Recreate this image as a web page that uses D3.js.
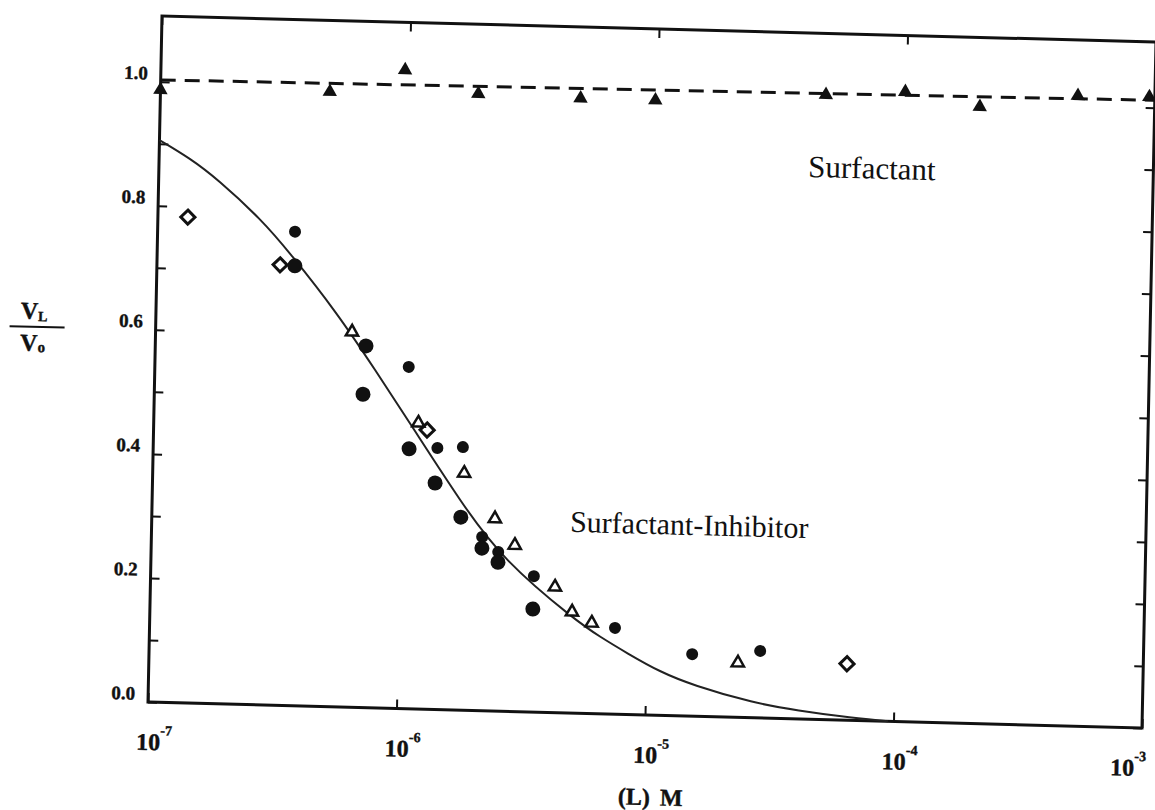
<!DOCTYPE html>
<html lang="en">
<head>
<meta charset="utf-8">
<script src="https://cdn.jsdelivr.net/npm/d3@7"></script>
<style>
body { margin: 0; background: #fff; }
svg { font-family: "Liberation Serif", "DejaVu Serif", serif; }
</style>
</head>
<body>
<script>
// values
var xDecades = [1e-7, 1e-6, 1e-5, 1e-4, 1e-3];
var xDecadeExp = ["-7", "-6", "-5", "-4", "-3"];
var yMajor = [0, 0.2, 0.4, 0.6, 0.8, 1.0];
var yMajorLabels = ["0.0", "0.2", "0.4", "0.6", "0.8", "1.0"];
var yMinor = [0, 0.1, 0.2, 0.3, 0.4, 0.5, 0.6, 0.7, 0.8, 0.9, 1.0];

// surfactant alone: filled triangles + dashed line
var surfX = [1.0e-7, 4.8e-7, 9.6e-7, 1.9e-6, 4.9e-6, 9.8e-6, 4.75e-5, 9.9e-5, 1.98e-4, 4.9e-4, 9.5e-4];
var surfY = [0.987, 0.991, 1.029, 0.994, 0.991, 0.991, 1.007, 1.015, 0.994, 1.016, 1.017];
var dashX = [1e-7, 1e-3];
var dashY = [1.003, 1.012];

// surfactant + inhibitor
var diamondX = [1.32e-7, 3.13e-7, 1.26e-6, 6.43e-5];
var diamondY = [0.783, 0.710, 0.450, 0.091];
var openTriX = [6.17e-7, 1.16e-6, 1.79e-6, 2.40e-6, 2.90e-6, 4.24e-6, 4.99e-6, 6.0e-6, 2.34e-5];
var openTriY = [0.605, 0.461, 0.382, 0.310, 0.268, 0.2025, 0.163, 0.146, 0.088];
var smallDotX = [3.57e-7, 1.05e-6, 1.39e-6, 1.76e-6, 2.14e-6, 2.49e-6, 3.48e-6, 7.45e-6, 1.53e-5, 2.87e-5];
var smallDotY = [0.764, 0.551, 0.4215, 0.424, 0.280, 0.2565, 0.219, 0.139, 0.100, 0.108];
var largeDotX = [3.59e-7, 7.04e-7, 6.91e-7, 1.07e-6, 1.37e-6, 1.75e-6, 2.14e-6, 2.49e-6, 3.47e-6];
var largeDotY = [0.709, 0.583, 0.505, 0.419, 0.365, 0.311, 0.262, 0.240, 0.166];

// fitted curve, points
var curveX = [1e-7, 1.33e-7, 1.72e-7, 2.62e-7, 3.42e-7, 5.35e-7, 7.69e-7, 1.10e-6, 1.76e-6, 2.61e-6,
              5.14e-6, 6.5e-6, 8.36e-6, 1.14e-5, 1.55e-5, 2.71e-5, 4.2e-5, 6.09e-5, 9.5e-5];
var curveY = [0.906, 0.878, 0.846, 0.7815, 0.7295, 0.635, 0.545, 0.454, 0.333, 0.2438,
              0.150, 0.124, 0.099, 0.070, 0.050, 0.024, 0.013, 0.006, 0.0];

var W = 994, H = 686;
var ink = "#111";

var svg = d3.select("body").append("svg")
    .attr("width", 1155)
    .attr("height", 810);

// the scan is slightly tilted, so the whole plot sits in a skewed group
var g = svg.append("g")
    .attr("transform", "matrix(1,0.02616,-0.02041,1,162,16)");

var x = d3.scaleLog().domain([1e-7, 1e-3]).range([0, W]);
var y = d3.scaleLinear().domain([0, 1.106]).range([H, 0]);

function zip(a, b) { return a.map(function(v, i) { return [v, b[i]]; }); }

// ticks (inward on all four sides)
var axes = [
  { ax: d3.axisBottom(x).tickValues(xDecades), t: "translate(0," + H + ")" },
  { ax: d3.axisTop(x).tickValues(xDecades), t: "translate(0,0)" },
  { ax: d3.axisLeft(y).tickValues(yMinor), t: "translate(0,0)" },
  { ax: d3.axisRight(y).tickValues(yMinor), t: "translate(" + W + ",0)" }
];
axes.forEach(function(a) {
  var ag = g.append("g").attr("transform", a.t)
      .call(a.ax.tickSize(-9).tickFormat(""));
  ag.select(".domain").remove();
  ag.selectAll("line").attr("stroke", ink).attr("stroke-width", 2);
});

// frame
g.append("rect")
    .attr("width", W).attr("height", H)
    .attr("fill", "none")
    .attr("stroke", ink)
    .attr("stroke-width", 3);

// y tick labels
g.selectAll(".ylab").data(yMajor).enter().append("text")
    .attr("class", "ylab")
    .attr("x", -13)
    .attr("y", function(d) { return y(d) - 2; })
    .attr("text-anchor", "end")
    .attr("font-size", 19)
    .attr("font-weight", "bold")
    .attr("fill", ink)
    .attr("stroke", ink)
    .attr("stroke-width", 0.4)
    .text(function(d, i) { return yMajorLabels[i]; });

// x tick labels 10^n
var xl = g.selectAll(".xlab").data(xDecades).enter().append("text")
    .attr("class", "xlab")
    .attr("x", function(d, i) { return x(d) - (i === xDecades.length - 1 ? 31 : 11); })
    .attr("y", H + 48)
    .attr("font-weight", "bold")
    .attr("fill", ink)
    .attr("stroke", ink)
    .attr("stroke-width", 0.4);
xl.append("tspan").attr("font-size", 24).text("10");
xl.append("tspan").attr("font-size", 14).attr("dy", -15)
    .text(function(d, i) { return xDecadeExp[i]; });

// axis titles
g.append("text")
    .attr("x", 504).attr("y", 776)
    .attr("text-anchor", "middle")
    .attr("font-size", 24)
    .attr("font-weight", "bold")
    .attr("fill", ink)
    .attr("stroke", ink)
    .attr("stroke-width", 0.4)
    .attr("word-spacing", 4)
    .text("(L) M");

var yt = g.append("g").attr("transform", "translate(-118,314)");
yt.append("line").attr("x1", -28).attr("x2", 27)
    .attr("stroke", ink).attr("stroke-width", 2);
var vl = yt.append("text").attr("x", -17).attr("y", -8)
    .attr("font-weight", "bold").attr("fill", ink)
    .attr("stroke", ink).attr("stroke-width", 0.4);
vl.append("tspan").attr("font-size", 24).text("V");
vl.append("tspan").attr("font-size", 14).attr("dy", 2).text("L");
var vo = yt.append("text").attr("x", -17).attr("y", 24)
    .attr("font-weight", "bold").attr("fill", ink)
    .attr("stroke", ink).attr("stroke-width", 0.4);
vo.append("tspan").attr("font-size", 24).text("V");
vo.append("tspan").attr("font-size", 15).attr("dy", 1).text("o");

// fitted curve
g.append("path")
    .datum(zip(curveX, curveY))
    .attr("fill", "none")
    .attr("stroke", "#222")
    .attr("stroke-width", 2)
    .attr("d", d3.line()
        .x(function(d) { return x(d[0]); })
        .y(function(d) { return y(d[1]); })
        .curve(d3.curveBasis));

// dashed surfactant line
g.append("path")
    .datum(zip(dashX, dashY))
    .attr("fill", "none")
    .attr("stroke", ink)
    .attr("stroke-width", 3)
    .attr("stroke-dasharray", "15,9")
    .attr("d", d3.line()
        .x(function(d) { return x(d[0]); })
        .y(function(d) { return y(d[1]); }));

function tr(d) { return "translate(" + x(d[0]) + "," + y(d[1]) + ")"; }

g.selectAll(".surf").data(zip(surfX, surfY)).enter().append("path")
    .attr("class", "surf")
    .attr("transform", tr)
    .attr("d", d3.symbol().type(d3.symbolTriangle).size(90))
    .attr("fill", ink);

g.selectAll(".dia").data(zip(diamondX, diamondY)).enter().append("path")
    .attr("class", "dia")
    .attr("transform", function(d) { return tr(d) + " rotate(45)"; })
    .attr("d", d3.symbol().type(d3.symbolSquare).size(100))
    .attr("fill", "#fff")
    .attr("stroke", ink)
    .attr("stroke-width", 3);

g.selectAll(".otri").data(zip(openTriX, openTriY)).enter().append("path")
    .attr("class", "otri")
    .attr("transform", tr)
    .attr("d", d3.symbol().type(d3.symbolTriangle).size(65))
    .attr("fill", "#fff")
    .attr("stroke", ink)
    .attr("stroke-width", 2.5);

g.selectAll(".sdot").data(zip(smallDotX, smallDotY)).enter().append("circle")
    .attr("class", "sdot")
    .attr("cx", function(d) { return x(d[0]); })
    .attr("cy", function(d) { return y(d[1]); })
    .attr("r", 6)
    .attr("fill", ink);

g.selectAll(".ldot").data(zip(largeDotX, largeDotY)).enter().append("circle")
    .attr("class", "ldot")
    .attr("cx", function(d) { return x(d[0]); })
    .attr("cy", function(d) { return y(d[1]); })
    .attr("r", 7.5)
    .attr("fill", ink);

// in-plot labels
g.append("text")
    .attr("x", x(4.09e-5)).attr("y", y(0.874))
    .attr("font-size", 31)
    .attr("fill", ink)
    .text("Surfactant");

g.append("text")
    .attr("x", x(4.82e-6)).attr("y", y(0.292))
    .attr("font-size", 30)
    .attr("fill", ink)
    .text("Surfactant-Inhibitor");
</script>
</body>
</html>
